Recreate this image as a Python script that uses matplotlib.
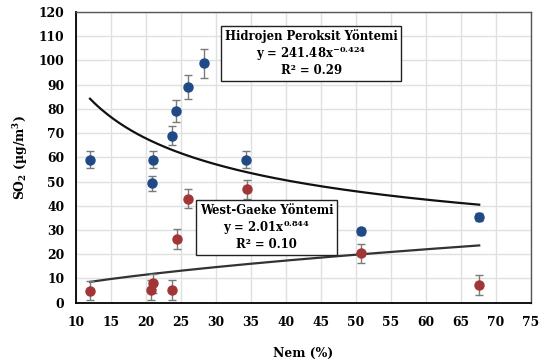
import numpy as np
import matplotlib
matplotlib.use("Agg")
import matplotlib.pyplot as plt

plt.rcParams["font.family"] = ["DejaVu Serif"]
plt.rcParams["font.weight"] = "bold"
plt.rcParams["mathtext.fontset"] = "custom"
plt.rcParams["mathtext.rm"] = "DejaVu Serif:bold"
plt.rcParams["mathtext.it"] = "DejaVu Serif:bold"
plt.rcParams["mathtext.bf"] = "DejaVu Serif:bold"

# Hidrojen Peroksit Yöntemi
hp_x = [12, 21, 23.7, 24.3, 26, 28.3, 34.3, 20.9, 50.7, 67.6]
hp_y = [59, 59, 69, 79, 89, 98.8, 59, 49.3, 29.5, 35.3]
hp_err = [3.5, 3.5, 4, 4.5, 5, 6, 3.5, 3, 1.5, 1.7]

# West-Gaeke Yöntemi
wg_x = [12, 20.7, 21, 23.7, 24.4, 26, 28.3, 34.4, 50.7, 67.6]
wg_y = [5, 5.2, 8, 5.2, 26.3, 43, 28.7, 46.8, 20.4, 7.3]
wg_err = [4, 4, 4, 4, 4, 4, 4, 4, 4, 4]

# trend lines as drawn (a * x^b)
hp_trend = (241.48, -0.424)
wg_trend = (2.01, 0.585)
trend_range = (12, 67.6)

blue = "#1F4A87"
red = "#A23535"

fig = plt.figure(figsize=(5.48, 3.62), dpi=100)
ax = fig.add_axes([0.1387, 0.1638, 0.969 - 0.1387, 0.9669 - 0.1638])

ax.errorbar(hp_x, hp_y, yerr=hp_err, fmt="o", color=blue, ms=6.5,
            ecolor="#7a7a7a", elinewidth=1, capsize=3, capthick=1, zorder=3)
ax.errorbar(wg_x, wg_y, yerr=wg_err, fmt="o", color=red, ms=6.5,
            ecolor="#7a7a7a", elinewidth=1, capsize=3, capthick=1, zorder=3)

xs = np.linspace(trend_range[0], trend_range[1], 200)
ax.plot(xs, hp_trend[0] * xs ** hp_trend[1], color="#111111", lw=1.6, zorder=2)
ax.plot(xs, wg_trend[0] * xs ** wg_trend[1], color="#333333", lw=1.6, zorder=2)

ax.set_xlim(10, 75)
ax.set_ylim(0, 120)
ax.set_xticks(range(10, 80, 5))
ax.set_yticks(range(0, 130, 10))
ax.tick_params(length=0, labelsize=8.9)
ax.tick_params(axis="x", pad=9.5)
ax.tick_params(axis="y", pad=8.5)
ax.grid(True, color="#e0e0e0", lw=1)
ax.set_axisbelow(True)
for s in ["top", "right"]:
    ax.spines[s].set_color("#555555")
    ax.spines[s].set_linewidth(1)
for s in ["left", "bottom"]:
    ax.spines[s].set_color("#000000")
    ax.spines[s].set_linewidth(1.3)

ax.set_xlabel("Nem (%)", fontsize=8.9, fontweight="bold", labelpad=13)
ax.set_ylabel("SO$_2$ (µg/m$^3$)", fontsize=8.9, fontweight="bold", labelpad=6)

box = dict(boxstyle="square,pad=0.3", fc="white", ec="#222222", lw=1)
ax.text(43.6, 103, "Hidrojen Peroksit Yöntemi\ny = 241.48x$^{-0.424}$\nR² = 0.29",
        ha="center", va="center", fontsize=8.4, fontweight="bold",
        linespacing=1.1, bbox=box, zorder=4)
ax.text(37.2, 31, "West-Gaeke Yöntemi\ny = 2.01x$^{0.844}$\nR² = 0.10",
        ha="center", va="center", fontsize=8.4, fontweight="bold",
        linespacing=1.1, bbox=box, zorder=4)

fig.savefig("out.png", dpi=100)
